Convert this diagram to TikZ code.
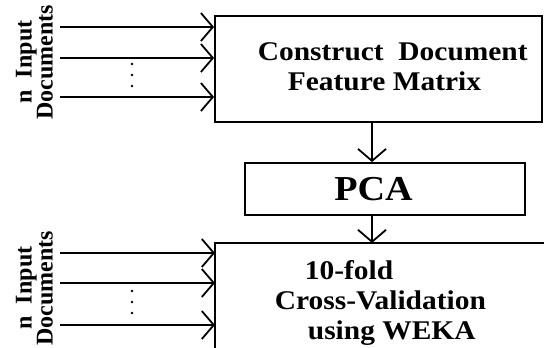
\documentclass[tikz,border=0pt]{standalone}
\usepackage{fontspec}
\setmainfont{Liberation Serif}
\newfontfamily\wideserif[FakeStretch=1.09]{Liberation Serif}
\usetikzlibrary{arrows.meta}

\begin{document}
\begin{tikzpicture}[x=1pt,y=-1pt,line width=1.8pt,
    inarr/.style={-{Straight Barb[length=12pt,width=28pt]}},
    box/.style={draw,inner sep=0pt},
    boxtext/.style={inner sep=0pt,align=left,font=\wideserif\bfseries\fontsize{27}{30}\selectfont},
    sidetext/.style={rotate=90,align=center,inner sep=0pt,font=\bfseries\fontsize{24}{21}\selectfont}]
\useasboundingbox (0,0) rectangle (544,348);

% feature matrix box
\node[box,minimum width=327pt,minimum height=106pt] (cdfm) at (378.5,69) {};
\node[boxtext,anchor=north west] (cdfmtext) at (257,41.7) {Construct\ \ Document\\\hspace*{30pt}Feature Matrix};

% pca box
\node[box,minimum width=280pt,minimum height=52pt,font=\wideserif\bfseries\fontsize{35}{40}\selectfont] (pca) at (385,189) {PCA\hspace*{23pt}};

% cross-validation box (open at right and bottom)
\coordinate (cv) at (215,243);
\draw (215,348) -- (cv) -- (544,243);
\node[boxtext,anchor=north west] (cvtext) at (274,259.6) {\hspace*{30pt}10-fold\\Cross-Validation\\\hspace*{33pt}using WEKA};

% input documents
\node[sidetext] (docs1) at (34.5,62) {n\ \ Input\\Documents};
\node[sidetext] (docs2) at (34.5,288) {n\ \ Input\\Documents};
\foreach \name/\y in {in1/27,in2/58,in3/97,in4/253,in5/283,in6/325}
    \coordinate (\name) at (60,\y);
\foreach \name in {in1,in2,in3}
    \draw[inarr] (\name) -- (\name -| cdfm.west);
\foreach \name in {in4,in5,in6}
    \draw[inarr] (\name) -- (\name -| cv);
\foreach \y in {64,75,86,291,302,313}
    \fill (132,\y) circle (1.4pt);

% flow
\coordinate (flow) at (372,0);
\draw[inarr] (cdfm.south -| flow) -- (pca.north -| flow);
\draw[inarr] (pca.south -| flow) -- (cv -| flow);
\end{tikzpicture}
\end{document}
